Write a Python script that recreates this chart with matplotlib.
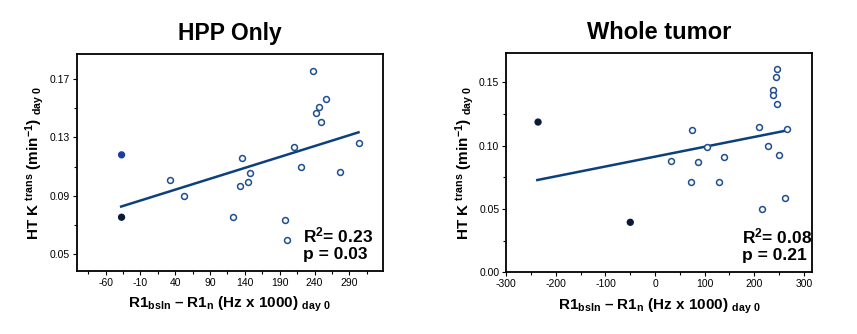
import numpy as np
import matplotlib
matplotlib.use("Agg")
import matplotlib.pyplot as plt
from matplotlib.ticker import MultipleLocator

plt.rcParams['font.family'] = ['Liberation Sans', 'DejaVu Sans']
plt.rcParams['mathtext.fontset'] = 'custom'
plt.rcParams['mathtext.rm'] = 'Liberation Sans:bold'
plt.rcParams['mathtext.it'] = 'Liberation Sans:bold'
plt.rcParams['mathtext.bf'] = 'Liberation Sans:bold'
plt.rcParams['axes.unicode_minus'] = False

# ---- HPP Only ----
hpp_open_x = [32, 53, 123, 136, 133, 145, 147, 197, 200, 211, 221, 238, 242, 246, 249, 257, 277, 304]
hpp_open_y = [0.1007, 0.0898, 0.0753, 0.1158, 0.0966, 0.0994, 0.1055, 0.0733, 0.0596, 0.1234,
              0.1100, 0.1755, 0.1469, 0.1508, 0.1405, 0.1560, 0.1062, 0.1261]
hpp_filled_x = [-37, -37]
hpp_filled_y = [0.1180, 0.0753]
hpp_filled_colors = ['#1a3fa0', '#0a1a3a']
hpp_fit_x = [-37.6, 303]
hpp_fit_y = [0.0826, 0.1334]
hpp_stats = "R$^2$= 0.23\np = 0.03"

# ---- Whole tumor ----
wt_open_x = [32, 73, 75, 86, 104, 129, 140, 209, 216, 227, 238, 238, 244, 245, 245, 250, 262, 266]
wt_open_y = [0.0878, 0.0713, 0.1128, 0.0868, 0.0989, 0.0713, 0.0910, 0.1144, 0.0497, 0.0994,
             0.1444, 0.1397, 0.1539, 0.1604, 0.1326, 0.0923, 0.0587, 0.1136]
wt_filled_x = [-236, -50]
wt_filled_y = [0.1187, 0.0395]
wt_filled_colors = ['#0a1a3a', '#0a1a3a']
wt_fit_x = [-237.5, 265]
wt_fit_y = [0.0729, 0.1120]
wt_stats = "R$^2$= 0.08\np = 0.21"

titles = ["HPP Only", "Whole tumor"]
ylabel = "HT K $^{\\mathrm{trans}}$ (min$^{\\mathrm{-1}}$) $_{\\mathrm{day\\ 0}}$"
xlabel = "R1$_{\\mathrm{bsln}}$ – R1$_{\\mathrm{n}}$ (Hz x 1000) $_{\\mathrm{day\\ 0}}$"

edge = '#1f4f92'
linec = '#0d3f7c'

fig = plt.figure(figsize=(8.57, 3.34), dpi=100)
ax1 = fig.add_axes([0.0898, 0.1886, 0.357, 0.6497])
ax2 = fig.add_axes([0.5908, 0.1847, 0.357, 0.6557])

def style(ax):
    for s in ax.spines.values():
        s.set_linewidth(1.3)
        s.set_color('black')
    ax.tick_params(which='major', direction='out', length=3, width=0.8, labelsize=7.5, pad=2)
    ax.tick_params(which='minor', direction='out', length=2, width=0.8)

# left
ax1.scatter(hpp_open_x, hpp_open_y, s=18, facecolors='white', edgecolors=edge, linewidths=1.1, zorder=3)
ax1.scatter(hpp_filled_x, hpp_filled_y, s=18, c=hpp_filled_colors, edgecolors=hpp_filled_colors, zorder=3)
ax1.plot(hpp_fit_x, hpp_fit_y, color=linec, lw=1.8, zorder=2)
ax1.set_xlim(-101, 338)
ax1.set_ylim(0.0385, 0.187)
ax1.xaxis.set_major_locator(MultipleLocator(50, offset=-10))
ax1.xaxis.set_minor_locator(MultipleLocator(25, offset=15))
ax1.set_yticks([0.05, 0.09, 0.13, 0.17])
ax1.set_yticklabels(['0.05', '0.09', '0.13', '0.17'])
ax1.yaxis.set_minor_locator(MultipleLocator(0.02, offset=0.01))
ax1.text(0.74, 0.125, hpp_stats, transform=ax1.transAxes, fontsize=12.5, fontweight='bold',
         va='center', ha='left', linespacing=1.15)
ax1.set_title(titles[0], fontsize=16.5, fontweight='bold', pad=10)

# right
ax2.scatter(wt_open_x, wt_open_y, s=18, facecolors='white', edgecolors=edge, linewidths=1.1, zorder=3)
ax2.scatter(wt_filled_x, wt_filled_y, s=18, c=wt_filled_colors, edgecolors=wt_filled_colors, zorder=3)
ax2.plot(wt_fit_x, wt_fit_y, color=linec, lw=1.8, zorder=2)
ax2.set_xlim(-300, 317)
ax2.set_ylim(0.0, 0.173)
ax2.xaxis.set_major_locator(MultipleLocator(100))
ax2.xaxis.set_minor_locator(MultipleLocator(50))
ax2.set_yticks([0.0, 0.05, 0.10, 0.15])
ax2.set_yticklabels(['0.00', '0.05', '0.10', '0.15'])
ax2.yaxis.set_minor_locator(MultipleLocator(0.025))
ax2.text(0.77, 0.125, wt_stats, transform=ax2.transAxes, fontsize=12.5, fontweight='bold',
         va='center', ha='left', linespacing=1.15)
ax2.set_title(titles[1], fontsize=17, fontweight='bold', pad=10)

for ax in (ax1, ax2):
    style(ax)
    ax.set_ylabel(ylabel, fontsize=11, fontweight='bold')
    ax.set_xlabel(xlabel, fontsize=11, fontweight='bold')
    ax.yaxis.set_label_coords(-0.10, 0.5)
    ax.xaxis.set_label_coords(0.5, -0.11)

fig.savefig('out.png', dpi=100)
